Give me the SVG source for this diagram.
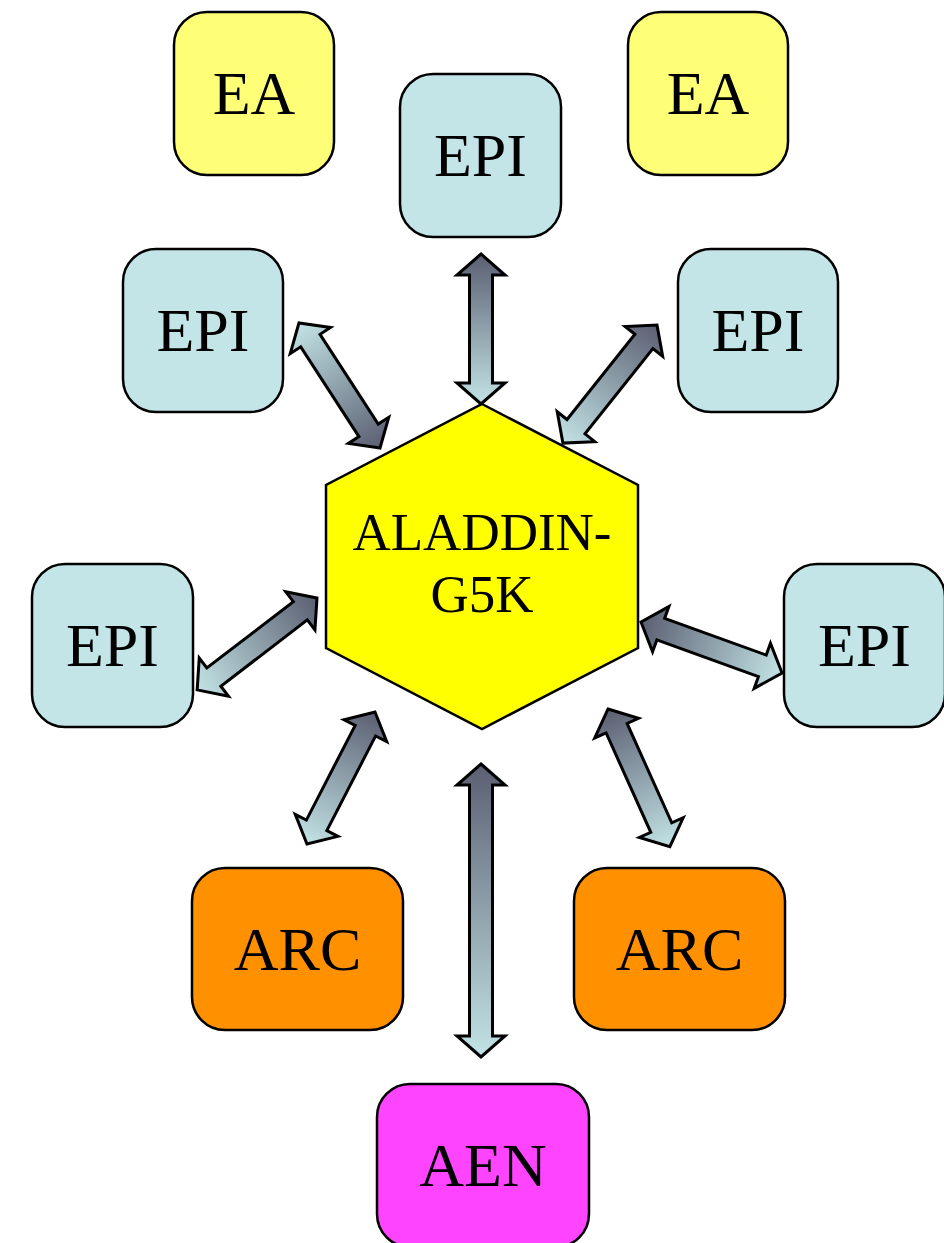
<svg xmlns="http://www.w3.org/2000/svg" width="944" height="1243" viewBox="0 0 944 1243">
<defs>
<linearGradient id="g" x1="0" y1="0" x2="1" y2="0">
<stop offset="0" stop-color="#5b5f72"/>
<stop offset="1" stop-color="#c2e3e5"/>
</linearGradient>
<style>
.box{stroke:#000;stroke-width:2.5}
.ea{fill:#ffff77}
.epi{fill:#c3e5e8}
.arc{fill:#ff9100}
.aen{fill:#ff44ff}
.lbl{font-family:"Liberation Serif","Times New Roman",serif;font-size:62px;fill:#000;text-anchor:middle}
.hl{font-family:"Liberation Serif","Times New Roman",serif;font-size:53px;fill:#000;text-anchor:middle}
.arr{fill:url(#g);stroke:#000;stroke-width:3;stroke-linejoin:miter}
</style>
</defs>
<rect width="944" height="1243" fill="#fff"/>

<g id="connectors">
<path class="arr" transform="translate(481,254) rotate(90)" d="M0,0 L21,-24 L21,-11.5 L129,-11.5 L129,-24 L150,0 L129,24 L129,11.5 L21,11.5 L21,24 Z"/>
<path class="arr" transform="translate(380,448) rotate(-122.95)" d="M0,0 L21,-24 L21,-11.5 L128,-11.5 L128,-24 L149,0 L128,24 L128,11.5 L21,11.5 L21,24 Z"/>
<path class="arr" transform="translate(657,325) rotate(128.54)" d="M0,0 L21,-24 L21,-11.5 L130,-11.5 L130,-24 L151,0 L130,24 L130,11.5 L21,11.5 L21,24 Z"/>
<path class="arr" transform="translate(317,598) rotate(142.52)" d="M0,0 L21,-24 L21,-11.5 L130,-11.5 L130,-24 L151,0 L130,24 L130,11.5 L21,11.5 L21,24 Z"/>
<path class="arr" transform="translate(641,622) rotate(19.88)" d="M0,0 L21,-24 L21,-11.5 L129,-11.5 L129,-24 L150,0 L129,24 L129,11.5 L21,11.5 L21,24 Z"/>
<path class="arr" transform="translate(375,712) rotate(117.26)" d="M0,0 L21,-24 L21,-11.5 L127.5,-11.5 L127.5,-24 L148.5,0 L127.5,24 L127.5,11.5 L21,11.5 L21,24 Z"/>
<path class="arr" transform="translate(608,709) rotate(65.81)" d="M0,0 L21,-24 L21,-11.5 L130,-11.5 L130,-24 L151,0 L130,24 L130,11.5 L21,11.5 L21,24 Z"/>
<path class="arr" transform="translate(481,764) rotate(90)" d="M0,0 L21,-24 L21,-11.5 L272,-11.5 L272,-24 L293,0 L272,24 L272,11.5 L21,11.5 L21,24 Z"/>
</g>

<g id="hub">
<polygon points="482,404 638,485 638,648 482,729 326,648 326,485" fill="#ffff00" stroke="#000" stroke-width="2.5"/>
<text class="hl" x="482" y="550">ALADDIN-</text>
<text class="hl" x="482" y="612">G5K</text>
</g>

<g id="ea-left"><rect class="box ea" x="174" y="12" width="160" height="163" rx="33"/><text class="lbl" x="254" y="114">EA</text></g>
<g id="ea-right"><rect class="box ea" x="628" y="12" width="160" height="163" rx="33"/><text class="lbl" x="708" y="114">EA</text></g>
<g id="epi-top"><rect class="box epi" x="400" y="74" width="161" height="163" rx="33"/><text class="lbl" x="480.5" y="176">EPI</text></g>
<g id="epi-upper-left"><rect class="box epi" x="123" y="249" width="160" height="163" rx="33"/><text class="lbl" x="203" y="351">EPI</text></g>
<g id="epi-upper-right"><rect class="box epi" x="678" y="249" width="160" height="163" rx="33"/><text class="lbl" x="758" y="351">EPI</text></g>
<g id="epi-left"><rect class="box epi" x="32" y="564" width="161" height="163" rx="33"/><text class="lbl" x="112.5" y="666">EPI</text></g>
<g id="epi-right"><rect class="box epi" x="784" y="564" width="161" height="163" rx="33"/><text class="lbl" x="864.5" y="666">EPI</text></g>
<g id="arc-left"><rect class="box arc" x="192" y="868" width="211" height="162" rx="33"/><text class="lbl" x="297.5" y="970">ARC</text></g>
<g id="arc-right"><rect class="box arc" x="574" y="868" width="211" height="162" rx="33"/><text class="lbl" x="679.5" y="970">ARC</text></g>
<g id="aen"><rect class="box aen" x="377" y="1084" width="212" height="163" rx="33"/><text class="lbl" x="483" y="1186">AEN</text></g>
</svg>
